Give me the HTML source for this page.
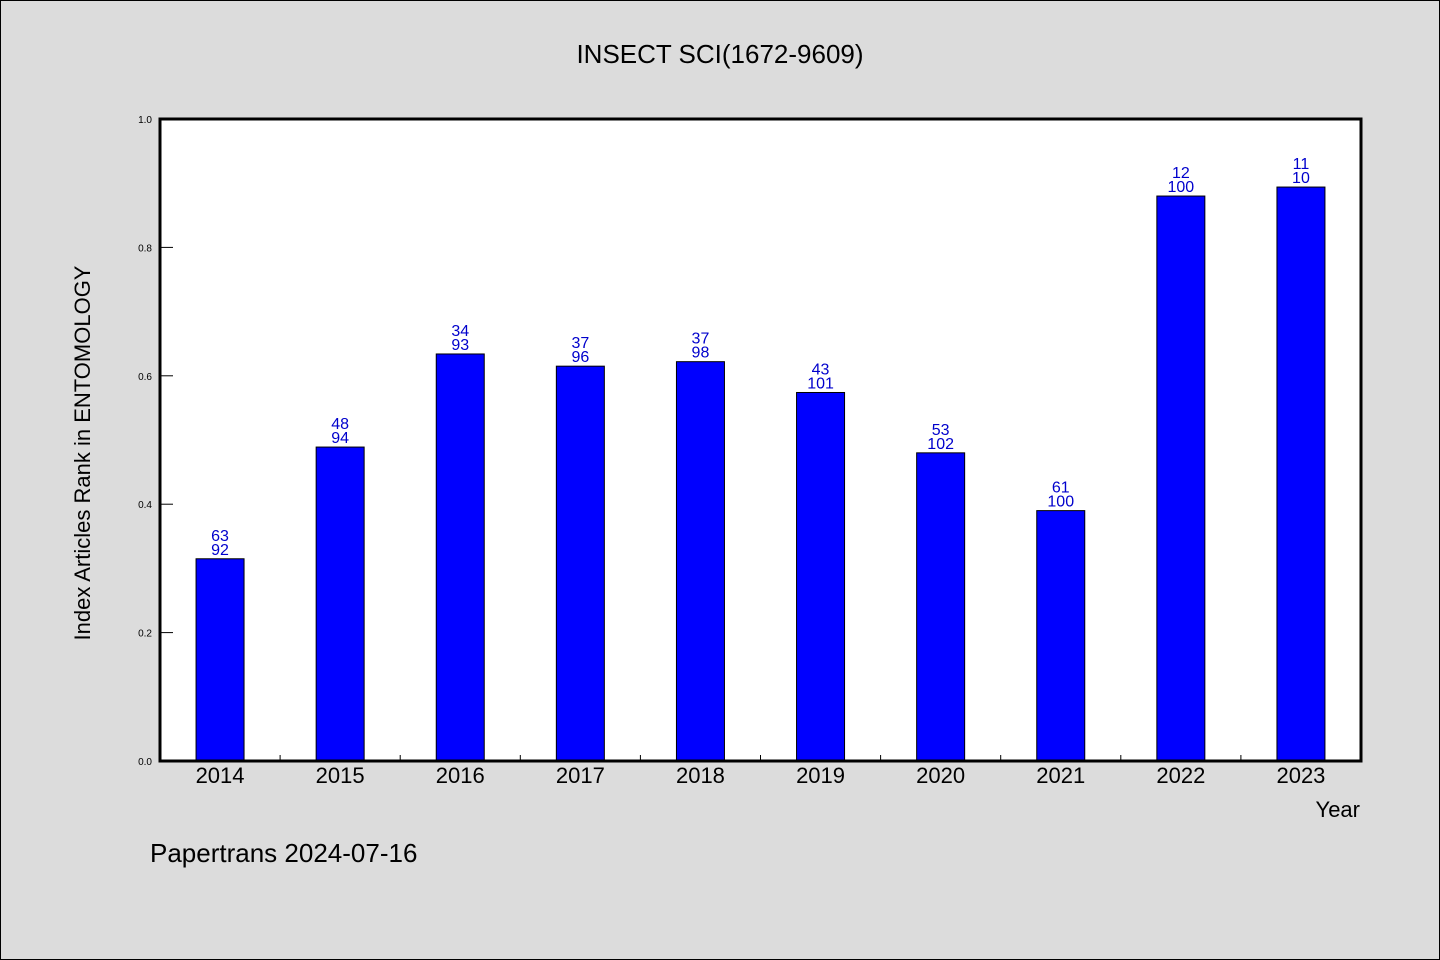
<!DOCTYPE html>
<html><head><meta charset="utf-8"><style>
body{margin:0;background:#dcdcdc;}
svg{display:block;font-family:"WenQuanYi Zen Hei","Liberation Sans",sans-serif;}
</style></head><body>
<svg id="chart" width="1440" height="960">
<rect x="0.5" y="0.5" width="1439" height="959" fill="#dcdcdc" stroke="#000" stroke-width="1"/>
<text x="720" y="63" font-size="26" text-anchor="middle">INSECT SCI(1672-9609)</text>
<rect x="160" y="119" width="1201" height="642" fill="#fff"/>
<g id="bars"></g>
<g id="axes"></g>
<rect x="160" y="119" width="1201" height="642" fill="none" stroke="#000" stroke-width="3"/>
<text x="90" y="453" font-size="22" text-anchor="middle" transform="rotate(-90 90 453)">Index Articles Rank in ENTOMOLOGY</text>
<text x="1360" y="817" font-size="22" text-anchor="end">Year</text>
<text x="150" y="862" font-size="26">Papertrans 2024-07-16</text>
</svg>
<script>
const years=["2014","2015","2016","2017","2018","2019","2020","2021","2022","2023"];
const values=[0.315,0.489,0.634,0.615,0.622,0.574,0.480,0.390,0.880,0.894];
const rankLabels=["63","48","34","37","37","43","53","61","12","11"];
const totalLabels=["92","94","93","96","98","101","102","100","100","10"];
const yTicks=[0,0.2,0.4,0.6,0.8,1.0];
const tickLabels=["0.0","0.2","0.4","0.6","0.8","1.0"];
const NS="http://www.w3.org/2000/svg";
const L=160,R=1361,T=119,B=761,bw=48;
const step=(R-L)/years.length;
const xc=i=>L+step*(i+0.5);
const y=v=>B-v*(B-T);
function mk(tag,attrs,parent){const e=document.createElementNS(NS,tag);for(const k in attrs)e.setAttribute(k,attrs[k]);parent.appendChild(e);return e;}
const bars=document.getElementById('bars'),axes=document.getElementById('axes');
years.forEach((yr,i)=>{
  const r=mk('rect',{x:xc(i)-bw/2,y:y(values[i]),width:bw,height:B-y(values[i]),fill:'#0000ff',stroke:'#000','stroke-width':1},bars);
  
  
  const t1=mk('text',{x:xc(i),y:y(values[i])-18,'font-size':16,fill:'#0000cc','text-anchor':'middle'},bars);
  t1.textContent=rankLabels[i];
  
  
  const t2=mk('text',{x:xc(i),y:y(values[i])-4,'font-size':16,fill:'#0000cc','text-anchor':'middle'},bars);
  t2.textContent=totalLabels[i];
  
  
  const xl=mk('text',{x:xc(i),y:783,'font-size':22,'text-anchor':'middle'},axes);
  xl.textContent=yr;
  
  
  if(i>0){const tk=mk('line',{x1:L+step*i,x2:L+step*i,y1:B,y2:B-6,stroke:'#000','stroke-width':1},axes);
  
  }
});
yTicks.forEach((v,i)=>{
  const tk=mk('line',{x1:L,x2:L+13,y1:y(v),y2:y(v),stroke:'#000','stroke-width':1},axes);
  
  
  const t=mk('text',{x:152,y:y(v)+4,'font-size':10,'text-anchor':'end'},axes);
  t.textContent=tickLabels[i];
  
  
});
</script>
</body></html>
